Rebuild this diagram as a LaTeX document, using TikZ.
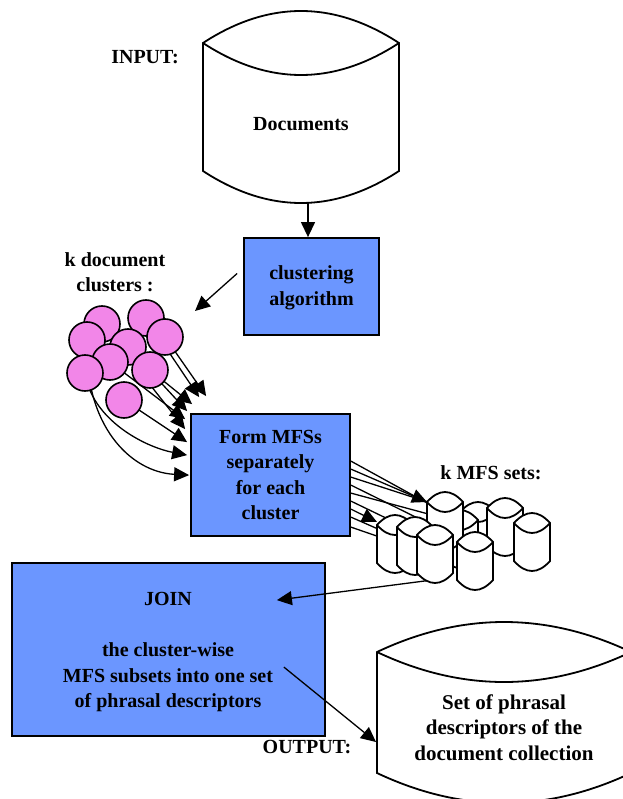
\documentclass[tikz,border=0pt]{standalone}
\usepackage{fontspec}
\setmainfont{Liberation Serif}
\usetikzlibrary{arrows.meta,calc}
\definecolor{boxblue}{HTML}{6B96FF}
\definecolor{pinkc}{HTML}{F286E8}
\pgfdeclarelayer{boxes}
\pgfdeclarelayer{links}
\pgfsetlayers{boxes,links,main}
\newcommand{\drawcyl}[2]{%
  \draw[cylline] ($(#1.north west)+(0,#2)$)
    .. controls ($(#1.north west)!0.333!(#1.north east)+(0,-#2/3)$) and ($(#1.north west)!0.667!(#1.north east)+(0,-#2/3)$) .. ($(#1.north east)+(0,#2)$)
    -- ($(#1.south east)+(0,-#2)$)
    .. controls ($(#1.south west)!0.667!(#1.south east)+(0,#2/3)$) and ($(#1.south west)!0.333!(#1.south east)+(0,#2/3)$) .. ($(#1.south west)+(0,-#2)$)
    -- cycle;
  \draw[cylline, fill=none] ($(#1.north west)+(0,#2)$)
    .. controls ($(#1.north west)!0.333!(#1.north east)+(0,#2*7/3)$) and ($(#1.north west)!0.667!(#1.north east)+(0,#2*7/3)$) .. ($(#1.north east)+(0,#2)$);
}
\begin{document}
\begin{tikzpicture}[x=1pt,y=-1pt,
  txt/.style={font=\fontsize{20}{25.5}\selectfont\bfseries, align=center, inner sep=0pt},
  bluebox/.style={draw, fill=boxblue, line width=1.8pt, inner sep=0pt},
  holder/.style={inner sep=0pt, outer sep=0pt},
  cylline/.style={draw, fill=white, line width=1.8pt, line join=miter},
  arr/.style={line width=1.3pt, -{Triangle[length=15pt,width=14pt]}},
  circ/.style={circle, draw, fill=pinkc, line width=1.6pt, minimum size=36pt, inner sep=0pt}]

\useasboundingbox (0,0) rectangle (622,799);

% ---------- clusters (main layer, on top) ----------
\node[circ] (c1) at (102,324) {};
\node[circ] (c2) at (146,318) {};
\node[circ] (c5) at (128,347) {};
\node[circ] (c4) at (87,340) {};
\node[circ] (c6) at (110,362) {};
\node[circ] (c3) at (165,337) {};
\node[circ] (c7) at (150,370) {};
\node[circ] (c8) at (85,373) {};
\node[circ] (c9) at (124,400) {};

% ---------- MFS sets ----------
\node[holder, minimum width=36pt, minimum height=58pt] (H1) at (478,531) {};
\drawcyl{H1}{10}
\node[holder, minimum width=36pt, minimum height=58pt] (H2) at (460,539) {};
\drawcyl{H2}{10}
\node[holder, minimum width=36pt, minimum height=58pt] (A) at (445,521) {};
\drawcyl{A}{10}
\node[holder, minimum width=36pt, minimum height=58pt] (B) at (505,527) {};
\drawcyl{B}{10}
\node[holder, minimum width=36pt, minimum height=58pt] (C) at (532,542) {};
\drawcyl{C}{10}
\node[holder, minimum width=36pt, minimum height=58pt] (D) at (395,544) {};
\drawcyl{D}{10}
\node[holder, minimum width=36pt, minimum height=58pt] (E) at (415,546) {};
\drawcyl{E}{10}
\node[holder, minimum width=36pt, minimum height=58pt] (F) at (435,554) {};
\drawcyl{F}{10}
\node[holder, minimum width=36pt, minimum height=58pt] (G) at (475,561) {};
\drawcyl{G}{10}

% ---------- boxes and big cylinders ----------
\begin{pgfonlayer}{boxes}
\node[holder, minimum width=196pt, minimum height=192pt] (docs) at (301,107) {};
\drawcyl{docs}{32}
\node[txt, anchor=base] (doctxt) at (301,131) {Documents};

\node[holder, minimum width=254pt, minimum height=181pt] (out) at (504,712.5) {};
\drawcyl{out}{30}
\node[txt, font=\fontsize{21}{25.5}\selectfont\bfseries] (outtxt) at (504,727.4) {Set of phrasal\\descriptors of the\\document collection};

\node[bluebox, minimum width=135pt, minimum height=97pt] (clus) at (311.5,286.5) {};
\node[txt] (clustxt) at (311.5,287.7) {clustering\\algorithm};

\node[bluebox, minimum width=159pt, minimum height=122pt] (form) at (270.5,475) {};
\node[txt] (formtxt) at (270.5,475.1) {Form MFSs\\separately\\for each\\cluster};

\node[bluebox, minimum width=313pt, minimum height=173pt] (join) at (168.5,649.5) {};
\node[txt] (jointxt) at (168,652) {JOIN\\[25.5pt]the cluster-wise\\MFS subsets into one set\\of phrasal descriptors};

\node[txt, anchor=base] (inp) at (145,64) {INPUT:};
\node[txt] (kdoc) at (115,272) {k document\\clusters :};
\node[txt, anchor=base] (kmfs) at (491,479) {k MFS sets:};
\node[txt, anchor=base] (outp) at (307,753) {OUTPUT:};
\end{pgfonlayer}

% ---------- connectors ----------
\begin{pgfonlayer}{links}
\coordinate (dbot) at ($(docs.south)+(7,0)$);
\draw[arr] (dbot) -- (dbot |- clus.north);
\coordinate (kc) at (195,311);
\draw[arr] ($(clus.west)+(-6,-13)$) -- (kc);

% clusters -> Form MFSs
\draw[arr] (c3.center) -- ($(form.north west)+(16,-17)$);
\draw[arr] (c2.center) -- ($(form.north west)+(9,-16)$);
\draw[arr] (c7.center) -- ($(form.north west)+(2,-9)$);
\draw[arr] (c5.center) -- ($(form.north west)+(-3,-2)$);
\draw[arr] (c6.center) -- ($(form.north west)+(-5,6)$);
\draw[arr] (c1.center) -- ($(form.north west)+(-5,16)$);
\draw[arr] (c9.center) -- ($(form.north west)+(-3,29)$);
\draw[arr] (c8.center) .. controls ($(c8)+(7,47)$) and ($(c8)+(60,74)$) .. ($(form.north west)+(-3,42)$);
\draw[arr] (c4.center) .. controls ($(c4)+(-3,85)$) and ($(c4)+(43,132)$) .. ($(form.north west)+(-1,62)$);

% Form MFSs -> MFS sets
\draw[arr] ($(form.north east)+(0,48)$) -- (H1.center);
\draw[arr] ($(form.north east)+(0,56)$) -- ($(A.north west)+(0,10)$);
\draw[arr] ($(form.north east)+(0,64)$) -- (B.center);
\draw[arr] ($(form.north east)+(0,72)$) -- (H2.center);
\draw[arr] ($(form.north east)+(0,80)$) -- (C.center);
\draw[arr] ($(form.north east)+(0,88)$) -- (G.center);
\draw[arr] ($(form.north east)+(0,96)$) -- ($(D.north west)+(0,7)$);
\draw[arr] ($(form.north east)+(0,104)$) -- (F.center);
\draw[arr] ($(form.north east)+(0,114)$) -- ($(E.west)+(0,-3)$);

% MFS sets -> JOIN
\draw[arr] ($(F.south)+(5,-4)$) -- ($(join.north east)+(-49,38)$);
% JOIN -> output
\draw[arr] ($(join.north east)+(-42,105)$) -- ($(out.west)+(-1,29.5)$);
\end{pgfonlayer}
\end{tikzpicture}
\end{document}
